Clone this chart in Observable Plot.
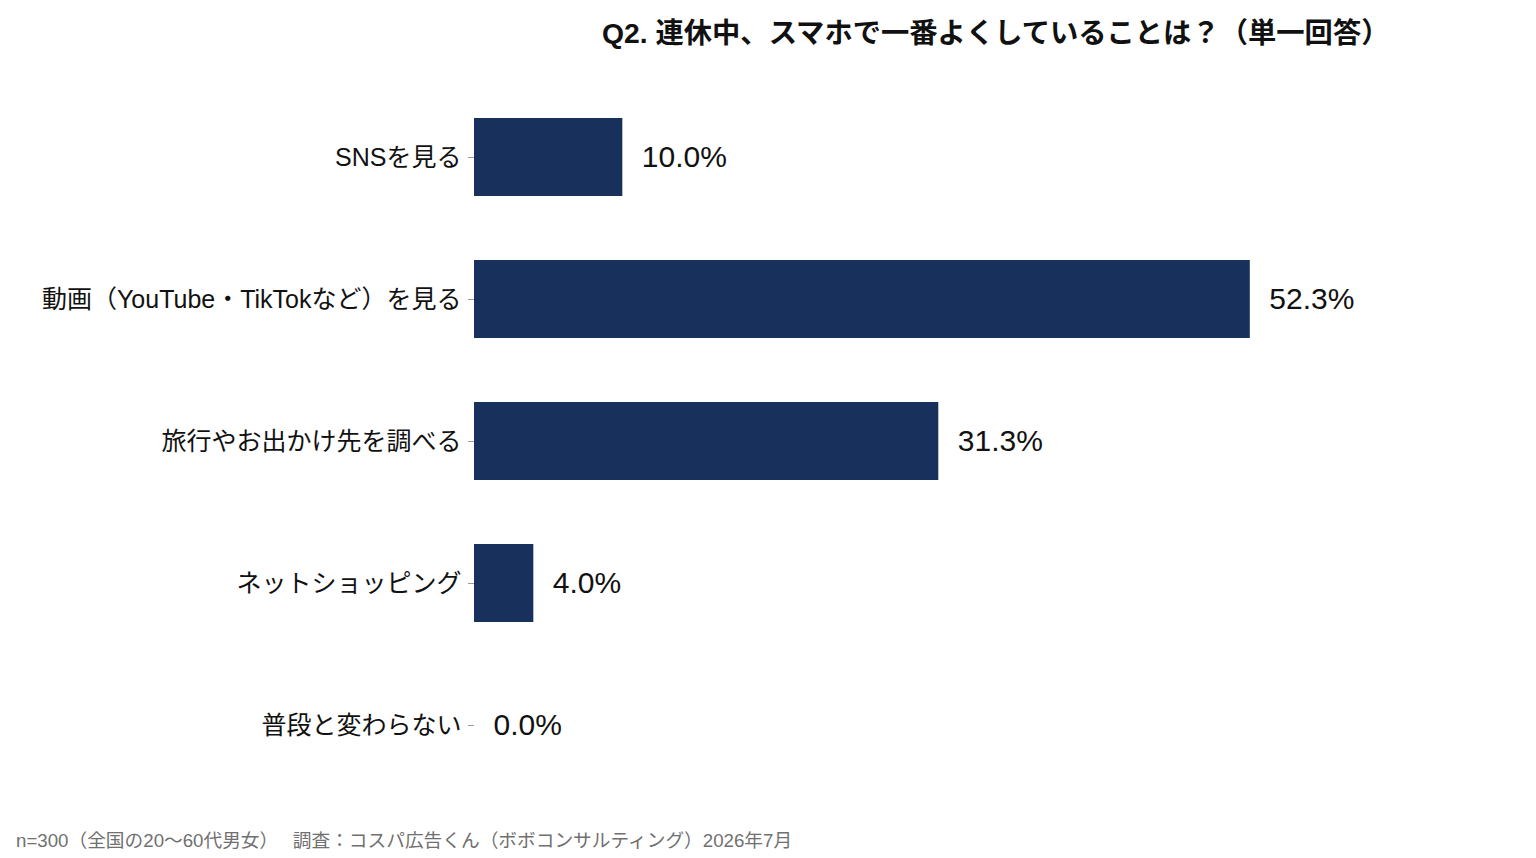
<!DOCTYPE html>
<html lang="ja">
<head>
<meta charset="utf-8">
<script src="https://cdn.jsdelivr.net/npm/d3@7"></script>
<script src="https://cdn.jsdelivr.net/npm/@observablehq/plot@0.6"></script>
<style>
  html, body { margin: 0; padding: 0; background: #fff; }
  body { position: relative; width: 1536px; height: 858px; overflow: hidden; font-family: "Liberation Sans", "Noto Sans CJK JP", sans-serif; }
  #title { position: absolute; left: 602px; top: 10px; font-size: 28.3px; font-weight: 700; color: #111; white-space: nowrap; z-index: 2; }
  #caption { position: absolute; left: 16px; top: 825px; font-size: 18.7px; color: #707070; white-space: pre; z-index: 2; }
  #chart { position: absolute; left: 0; top: 0; }
</style>
</head>
<body>
<div id="chart"></div>
<div id="title">Q2. 連休中、スマホで一番よくしていることは？（単一回答）</div>
<div id="caption">n=300（全国の20〜60代男女）　 調査：コスパ広告くん（ボボコンサルティング）2026年7月</div>
<script>
// Answer options, in display order (top to bottom)
const categories = [
  "SNSを見る",
  "動画（YouTube・TikTokなど）を見る",
  "旅行やお出かけ先を調べる",
  "ネットショッピング",
  "普段と変わらない"
];
// Share of respondents (%)
const values = [10.0, 52.3, 31.3, 4.0, 0.0];

const data = categories.map((c, i) => ({category: c, value: values[i]}));

const chart = Plot.plot({
  width: 1536,
  height: 858,
  marginLeft: 474,
  marginRight: 172,
  marginTop: 53,
  marginBottom: 28,
  style: {fontFamily: "\"Liberation Sans\", \"Noto Sans CJK JP\", sans-serif", background: "transparent"},
  x: {domain: [0, 60], axis: null},
  y: {domain: categories, padding: 0.45, label: null},
  marks: [
    Plot.barX(data, {x: "value", y: "category", fill: "#18305c"}),
    Plot.text(data, {
      x: "value", y: "category",
      text: d => d.value.toFixed(1) + "%",
      textAnchor: "start", dx: 19, fontSize: 30, fill: "#111"
    }),
    Plot.axisY({tickSize: 6, tickPadding: 7, fontSize: 25, stroke: "#999", fill: "#111", label: null})
  ]
});
document.getElementById("chart").appendChild(chart);
</script>
</body>
</html>
